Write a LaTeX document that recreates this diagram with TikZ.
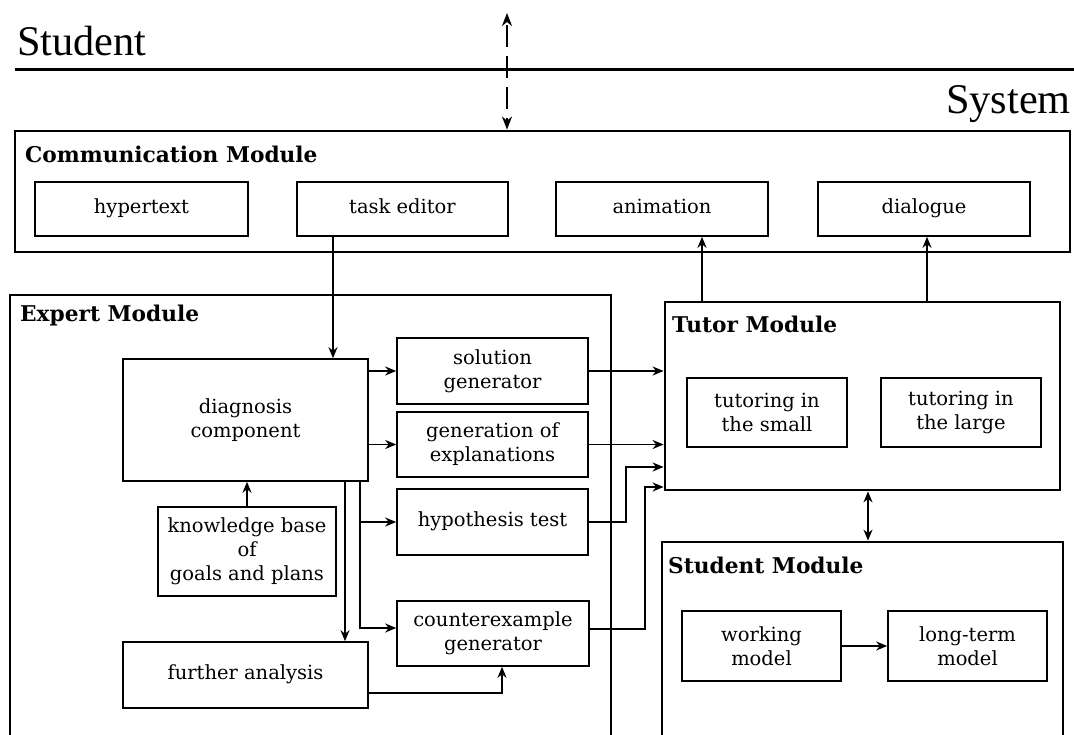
\documentclass[tikz,border=0pt]{standalone}
\usepackage{fontspec}
\setmainfont{DejaVu Serif}
\newfontfamily\bigserif{Liberation Serif}
\usetikzlibrary{arrows.meta,fit}
\begin{document}
\begin{tikzpicture}[x=1pt,y=-1pt,
  module/.style={draw, line width=2.8pt, inner sep=0pt},
  comp/.style={draw, line width=1.6pt, inner sep=0pt, align=center,
    font=\fontsize{19.5}{24}\selectfont},
  oneline/.style={comp, text height=14pt, text depth=4.5pt},
  modtitle/.style={anchor=base west, inner sep=0pt,
    font=\fontsize{21.7}{26}\selectfont\bfseries},
  side/.style={inner sep=0pt, font=\fontsize{42.3}{46}\bigserif},
  link/.style={line width=1.7pt},
  tip/.style={-{Stealth[length=11pt,width=9pt,inset=3.5pt]}},
  arr/.style={link, tip},
]
\clip (0,0) rectangle (1074,735);
\fill[white] (0,0) rectangle (1074,735);

% Student / System boundary
\node[side, anchor=base west] (student) at (17,56) {Student};
\node[side, anchor=base east] (system) at (1071,114) {System};
\coordinate (sepL) at (15,70);
\coordinate (sepR) at (1080,70);
\draw[line width=3pt] (sepL) -- (sepR);

% Communication module
\node[module, fit={(15,131) (1070,252)}] (comm) {};
\node[modtitle] (commT) at (25,163) {Communication Module};
\node[oneline, minimum width=213, minimum height=54] (hyper) at (141.5,209) {hypertext};
\node[oneline, minimum width=211, minimum height=54] (task) at (402.5,209) {task editor};
\node[oneline, minimum width=212, minimum height=54] (anim) at (662,209) {animation};
\node[oneline, minimum width=212, minimum height=54] (dial) at (924,209) {dialogue};

% Expert module
\node[module, fit={(10,295) (611,760)}] (expert) {};
\node[modtitle] (expertT) at (20,322) {Expert Module};
\node[comp, minimum width=245, minimum height=122] (diag) at (245.5,420) {diagnosis\\component};
\node[comp, minimum width=191, minimum height=66] (sol) at (492.5,371) {solution\\generator};
\node[comp, minimum width=191, minimum height=65] (expl) at (492.5,444.5) {generation of\\explanations};
\node[oneline, minimum width=191, minimum height=66] (hyp) at (492.5,522) {hypothesis test};
\node[comp, minimum width=192, minimum height=65] (cex) at (493,633.5) {counterexample\\generator};
\node[comp, minimum width=178, minimum height=89] (kb) at (247,551.5) {knowledge base\\of\\goals and plans};
\node[oneline, minimum width=245, minimum height=66] (fa) at (245.5,675) {further analysis};

% Tutor module
\node[module, fit={(665,302) (1060,490)}] (tutor) {};
\node[modtitle] (tutorT) at (672,333) {Tutor Module};
\node[comp, minimum width=160, minimum height=69] (small) at (767,412.5) {tutoring in\\the small};
\node[comp, minimum width=160, minimum height=69] (large) at (961,412.5) {tutoring in\\the large};

% Student module
\node[module, fit={(662,542) (1063,760)}] (stud) {};
\node[modtitle] (studT) at (668,573) {Student Module};
\node[comp, minimum width=159, minimum height=70] (work) at (761.5,646) {working\\model};
\node[comp, minimum width=159, minimum height=70] (long) at (967.5,646) {long-term\\model};

% helper positions for routed connectors
\coordinate (xUser) at (507,13);
\coordinate (xTask) at (333,0);
\coordinate (xFa) at (345,0);
\coordinate (xBr) at (360,0);
\coordinate (yCex) at (0,628);
\coordinate (yFa) at (0,693);
\coordinate (xFaUp) at (502,0);
\coordinate (xHyp) at (626,0);
\coordinate (yHyp) at (0,467);
\coordinate (yHypOut) at (0,522);
\coordinate (xCex) at (645,0);
\coordinate (yCexT) at (0,487);
\coordinate (yCexOut) at (0,629);
\coordinate (xAnim) at (702,0);
\coordinate (xDial) at (927,0);
\coordinate (xTS) at (868,0);

% user <-> system
\draw[line width=2.8pt, dash pattern=on 22pt off 9pt, dash phase=-4pt,
  {Stealth[length=13pt,width=10pt,inset=4pt]}-{Stealth[length=13pt,width=10pt,inset=4pt]}]
  (xUser) -- (xUser |- comm.north);

% communication -> expert
\draw[arr] (task.south -| xTask) -- (diag.north -| xTask);

% expert module internals
\draw[arr] (diag.east |- sol.west) -- (sol.west);
\draw[arr] (diag.east |- expl.west) -- (expl.west);
\draw[arr] (kb.north) -- (kb.north |- diag.south);
\draw[arr] (diag.south -| xFa) -- (fa.north -| xFa);
\draw[arr] (diag.south -| xBr) -- (xBr |- yCex) -- (cex.west |- yCex);
\draw[arr] (xBr |- hyp.west) -- (hyp.west);
\draw[arr] (fa.east |- yFa) -- (xFaUp |- yFa) -- (xFaUp |- cex.south);

% expert -> tutor
\draw[arr] (sol.east) -- (tutor.west |- sol.east);
\draw[arr] (expl.east) -- (tutor.west |- expl.east);
\draw[arr] (hyp.east |- yHypOut) -- (xHyp |- yHypOut) -- (xHyp |- yHyp) -- (tutor.west |- yHyp);
\draw[arr] (cex.east |- yCexOut) -- (xCex |- yCexOut) -- (xCex |- yCexT) -- (tutor.west |- yCexT);

% tutor -> communication
\draw[arr] (tutor.north -| xAnim) -- (anim.south -| xAnim);
\draw[arr] (tutor.north -| xDial) -- (dial.south -| xDial);

% tutor <-> student model
\draw[link, {Stealth[length=11pt,width=9pt,inset=3.5pt]}-{Stealth[length=11pt,width=9pt,inset=3.5pt]}]
  (tutor.south -| xTS) -- (stud.north -| xTS);
\draw[arr] (work.east) -- (long.west);
\end{tikzpicture}
\end{document}
